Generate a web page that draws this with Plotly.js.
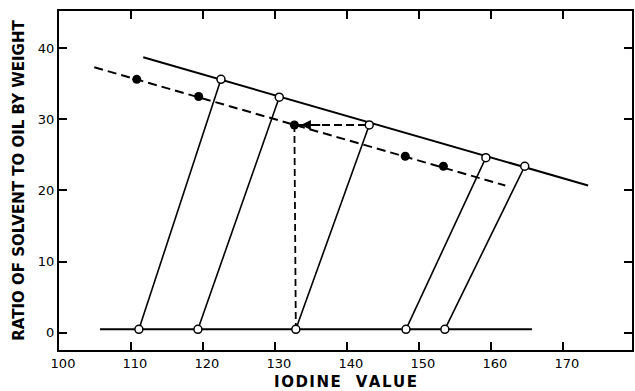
<!DOCTYPE html>
<html>
<head>
<meta charset="utf-8">
<script src="https://cdn.plot.ly/plotly-3.0.1.min.js"></script>
<style>html,body{margin:0;padding:0;background:#fff;}#chart{width:635px;height:391px;}</style>
</head>
<body>
<div id="chart"></div>
<script>
// Raffinate (bottom) compositions, iodine value
const raffinateX = [111.1, 119.3, 132.9, 148.2, 153.6];
const raffinateY = [0.5, 0.5, 0.5, 0.5, 0.5];
// Extract (upper) compositions
const extractX = [122.5, 130.6, 143.1, 159.3, 164.7];
const extractY = [35.6, 33.1, 29.2, 24.6, 23.4];
// Filled points (solvent ratio vs feed iodine value)
const feedX = [110.8, 119.4, 132.7, 148.1, 153.4];
const feedY = [35.6, 33.2, 29.2, 24.8, 23.4];
// Guide lines
const bottomLineX = [105.7, 165.7];
const bottomLineY = [0.5, 0.5];
const upperLineX = [111.7, 173.5];
const upperLineY = [38.7, 20.7];
const dashLineX = [104.9, 162.0];
const dashLineY = [37.3, 20.7];
// Construction lines for the example point
const constructVX = [132.7, 132.9];
const constructVY = [29.2, 0.5];
const constructHX = [133.2, 143.1];
const constructHY = [29.2, 29.2];
const xTicks = [100, 110, 120, 130, 140, 150, 160, 170];
const yTicks = [0, 10, 20, 30, 40];

const tieX = [], tieY = [];
for (let i = 0; i < raffinateX.length; i++) {
  tieX.push(raffinateX[i], extractX[i], null);
  tieY.push(raffinateY[i], extractY[i], null);
}

const traces = [
  {x: bottomLineX, y: bottomLineY, mode: 'lines', line: {color: '#000', width: 2}},
  {x: upperLineX, y: upperLineY, mode: 'lines', line: {color: '#000', width: 2}},
  {x: dashLineX, y: dashLineY, mode: 'lines', line: {color: '#000', width: 2, dash: '9px,5px'}},
  {x: constructVX, y: constructVY, mode: 'lines', line: {color: '#000', width: 1.8, dash: '7px,4px'}},
  {x: constructHX, y: constructHY, mode: 'lines', line: {color: '#000', width: 2, dash: '8px,4px'}},
  {x: tieX, y: tieY, mode: 'lines', line: {color: '#000', width: 1.6}},
  {x: feedX, y: feedY, mode: 'markers', marker: {color: '#000', size: 9, line: {width: 0}}},
  {x: raffinateX, y: raffinateY, mode: 'markers', marker: {color: '#fff', size: 8, line: {color: '#000', width: 1.5}}},
  {x: extractX, y: extractY, mode: 'markers', marker: {color: '#fff', size: 8, line: {color: '#000', width: 1.5}}}
];

const axisCommon = {
  showgrid: false, zeroline: false, showline: true, linecolor: '#000', linewidth: 2,
  mirror: 'ticks', ticks: 'inside', ticklen: 8, tickwidth: 2, tickcolor: '#000',
  tickfont: {family: 'DejaVu Sans', size: 13, color: '#000'}
};

const layout = {
  width: 635, height: 391,
  margin: {l: 59, r: 3, t: 11, b: 41},
  paper_bgcolor: '#fff', plot_bgcolor: '#fff',
  showlegend: false,
  font: {family: 'DejaVu Sans', color: '#000'},
  xaxis: Object.assign({}, axisCommon, {
    range: [100, 179.6], tickvals: xTicks, ticktext: xTicks.map(String),
    ticklabelshift: 4,
    title: {text: 'I\u200AO\u200AD\u200AI\u200AN\u200AE\u2002\u2002V\u200AA\u200AL\u200AU\u200AE', font: {family: 'DejaVu Sans', size: 15, weight: 'bold', color: '#000'}, standoff: 8}
  }),
  yaxis: Object.assign({}, axisCommon, {
    range: [-2.4, 45.2], tickvals: yTicks, ticktext: yTicks.map(String),
    title: {text: 'RATIO OF SOLVENT TO OIL BY WEIGHT', font: {family: 'DejaVu Sans', size: 15, weight: 'bold', color: '#000'}, standoff: 10}
  }),
  annotations: [{
    x: 133.6, y: 29.2, xref: 'x', yref: 'y',
    ax: 136.5, ay: 29.2, axref: 'x', ayref: 'y',
    showarrow: true, arrowhead: 2, arrowsize: 1, arrowwidth: 2, arrowcolor: '#000', text: ''
  }]
};

Plotly.newPlot('chart', traces, layout, {staticPlot: true, displayModeBar: false});
</script>
</body>
</html>
